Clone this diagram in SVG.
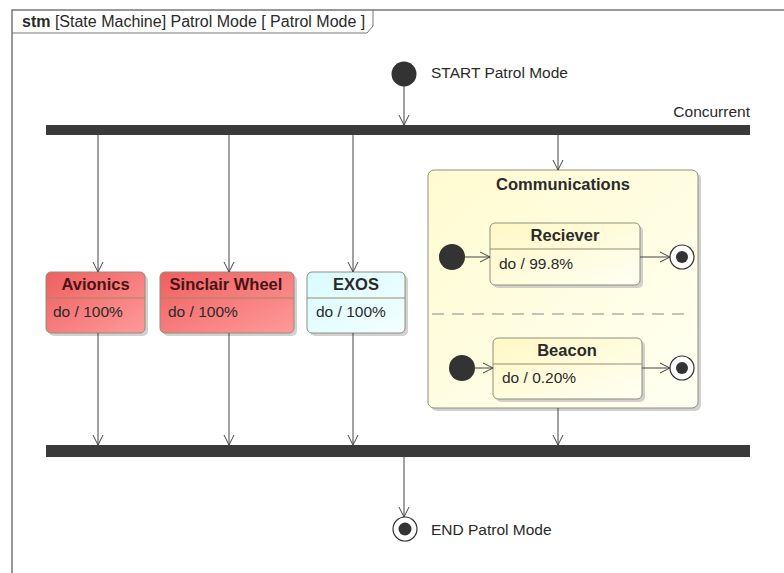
<svg xmlns="http://www.w3.org/2000/svg" width="784" height="573" viewBox="0 0 784 573">
  <defs>
    <linearGradient id="gRed" x1="0" y1="0" x2="1" y2="1">
      <stop offset="0" stop-color="#ef5f5f"/>
      <stop offset="1" stop-color="#ff9a9a"/>
    </linearGradient>
    <linearGradient id="gCyan" x1="0" y1="0" x2="1" y2="1">
      <stop offset="0" stop-color="#d8fbff"/>
      <stop offset="1" stop-color="#f4ffff"/>
    </linearGradient>
    <linearGradient id="gYellow" x1="0" y1="0" x2="1" y2="1">
      <stop offset="0" stop-color="#fffbd0"/>
      <stop offset="1" stop-color="#fffff2"/>
    </linearGradient>
    <linearGradient id="gYellowInner" x1="0" y1="0" x2="1" y2="1">
      <stop offset="0" stop-color="#fff8c4"/>
      <stop offset="1" stop-color="#fffff4"/>
    </linearGradient>
    <marker id="open" viewBox="0 0 12 12" refX="11" refY="6" markerWidth="12" markerHeight="12" markerUnits="userSpaceOnUse" orient="auto">
      <path d="M1,1 L11,6 L1,11" fill="none" stroke="#444" stroke-width="1"/>
    </marker>
  </defs>
  <style>
    text { font-family: "Liberation Sans", Arial, sans-serif; fill: #2a2a2a; }
    .lbl { font-size: 15.5px; }
    .ttl { font-size: 16px; }
    .hdr { font-size: 16.5px; font-weight: bold; text-anchor: middle; }
    .state { stroke: #8f8f7a; stroke-width: 1; }
    .shadow { fill: #bdbdbd; opacity: 0.7; }
    .div { stroke: #9a8a6a; stroke-width: 1; }
    .bar { fill: #3a3a3a; }
    .edge { stroke: #444; stroke-width: 1; fill: none; marker-end: url(#open); }
    .init { fill: #333; }
    .fin-o { fill: #fff; stroke: #333; stroke-width: 1.2; }
    .fin-i { fill: #333; }
  </style>

  <rect width="784" height="573" fill="#fff"/>

  <!-- frame -->
  <g id="frame">
    <rect x="12" y="10" width="790" height="580" fill="none" stroke="#777" stroke-width="1.5"/>
    <path d="M12,33 L367,33 L373,26 L373,10" fill="none" stroke="#777" stroke-width="1"/>
    <text x="22" y="27" class="ttl"><tspan font-weight="bold">stm</tspan> [State Machine] Patrol Mode [ Patrol Mode ]</text>
  </g>

  <!-- start -->
  <g id="start">
    <circle cx="404" cy="74" r="12.5" class="init"/>
    <text x="431" y="78" class="lbl">START Patrol Mode</text>
  </g>

  <!-- fork bar -->
  <g id="fork">
    <rect x="46" y="125" width="704" height="10" class="bar"/>
    <text x="750" y="117" class="lbl" text-anchor="end">Concurrent</text>
  </g>

  <!-- join bar -->
  <g id="join">
    <rect x="46" y="445" width="704" height="12" class="bar"/>
  </g>

  <!-- end -->
  <g id="end">
    <circle cx="405" cy="529" r="12" class="fin-o"/>
    <circle cx="405" cy="529" r="6.5" class="fin-i"/>
    <text x="431" y="535" class="lbl">END Patrol Mode</text>
  </g>

  <!-- Avionics -->
  <g id="avionics">
    <rect x="49" y="275" width="99" height="61" rx="5" class="shadow"/>
    <rect x="46" y="272" width="99" height="61" rx="5" fill="url(#gRed)" class="state"/>
    <line x1="46" y1="298" x2="145" y2="298" class="div"/>
    <text x="95.5" y="290" class="hdr" style="fill:#4a1414">Avionics</text>
    <text x="53" y="317" class="lbl">do / 100%</text>
  </g>

  <!-- Sinclair Wheel -->
  <g id="sinclair">
    <rect x="163" y="275" width="134" height="61" rx="5" class="shadow"/>
    <rect x="160" y="272" width="134" height="61" rx="5" fill="url(#gRed)" class="state"/>
    <line x1="160" y1="298" x2="294" y2="298" class="div"/>
    <text x="226" y="290" class="hdr" style="fill:#4a1414">Sinclair Wheel</text>
    <text x="168" y="317" class="lbl">do / 100%</text>
  </g>

  <!-- EXOS -->
  <g id="exos">
    <rect x="310" y="275" width="98" height="61" rx="5" class="shadow"/>
    <rect x="307" y="272" width="98" height="61" rx="5" fill="url(#gCyan)" class="state"/>
    <line x1="307" y1="298" x2="405" y2="298" class="div"/>
    <text x="356" y="290" class="hdr">EXOS</text>
    <text x="316" y="317" class="lbl">do / 100%</text>
  </g>

  <!-- Communications -->
  <g id="communications">
    <rect x="431" y="173" width="270" height="238" rx="6" class="shadow"/>
    <rect x="428" y="170" width="270" height="238" rx="6" fill="url(#gYellow)" class="state"/>
    <text x="563" y="190" class="hdr">Communications</text>
    <line x1="432" y1="314" x2="690" y2="314" stroke="#888" stroke-width="1" stroke-dasharray="12,8"/>
  </g>

  <!-- Reciever region -->
  <g id="reciever-init">
    <circle cx="452" cy="257" r="13" class="init"/>
  </g>
  <g id="reciever">
    <rect x="493" y="226" width="150" height="62" rx="5" class="shadow"/>
    <rect x="490" y="223" width="150" height="62" rx="5" fill="url(#gYellowInner)" class="state"/>
    <line x1="490" y1="249" x2="640" y2="249" class="div"/>
    <text x="565" y="241" class="hdr">Reciever</text>
    <text x="499" y="269" class="lbl">do / 99.8%</text>
  </g>
  <g id="reciever-final">
    <circle cx="682" cy="257" r="12" class="fin-o"/>
    <circle cx="682" cy="257" r="6" class="fin-i"/>
  </g>

  <!-- Beacon region -->
  <g id="beacon-init">
    <circle cx="462" cy="368" r="13" class="init"/>
  </g>
  <g id="beacon">
    <rect x="496" y="341" width="149" height="61" rx="5" class="shadow"/>
    <rect x="493" y="338" width="149" height="61" rx="5" fill="url(#gYellowInner)" class="state"/>
    <line x1="493" y1="364" x2="642" y2="364" class="div"/>
    <text x="567" y="356" class="hdr">Beacon</text>
    <text x="502" y="383" class="lbl">do / 0.20%</text>
  </g>
  <g id="beacon-final">
    <circle cx="682" cy="368" r="12" class="fin-o"/>
    <circle cx="682" cy="368" r="6" class="fin-i"/>
  </g>

  <!-- transitions -->
  <g id="connectors">
    <line x1="404" y1="86" x2="404" y2="125" class="edge"/>
    <line x1="98" y1="135" x2="98" y2="272" class="edge"/>
    <line x1="229" y1="135" x2="229" y2="272" class="edge"/>
    <line x1="353" y1="135" x2="353" y2="272" class="edge"/>
    <line x1="558" y1="135" x2="558" y2="170" class="edge"/>
    <line x1="98" y1="333" x2="98" y2="445" class="edge"/>
    <line x1="229" y1="333" x2="229" y2="445" class="edge"/>
    <line x1="353" y1="333" x2="353" y2="445" class="edge"/>
    <line x1="558" y1="408" x2="558" y2="445" class="edge"/>
    <line x1="404" y1="457" x2="404" y2="517" class="edge"/>
    <line x1="465" y1="257" x2="490" y2="257" class="edge"/>
    <line x1="640" y1="257" x2="670" y2="257" class="edge"/>
    <line x1="475" y1="368" x2="493" y2="368" class="edge"/>
    <line x1="642" y1="368" x2="670" y2="368" class="edge"/>
  </g>
</svg>
